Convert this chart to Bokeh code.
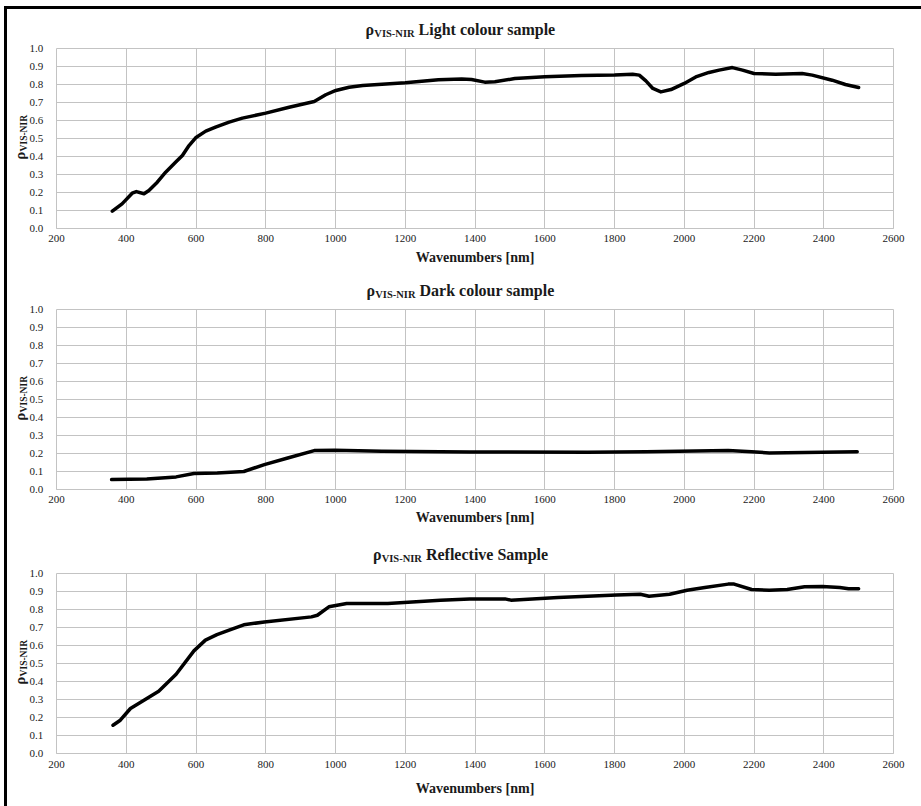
import math
from bokeh.plotting import figure
from bokeh.models import Range1d, FixedTicker, PrintfTickFormatter, Label
from bokeh.layouts import column, row
from bokeh.embed import file_html
from bokeh.resources import INLINE

# ---------------- data ----------------
x_ticks = [200, 400, 600, 800, 1000, 1200, 1400, 1600, 1800, 2000, 2200, 2400, 2600]
y_ticks = [0.0, 0.1, 0.2, 0.3, 0.4, 0.5, 0.6, 0.7, 0.8, 0.9, 1.0]

titles = ["Light colour sample", "Dark colour sample", "Reflective Sample"]
x_label = "Wavenumbers [nm]"

light_x = [360, 388, 417, 429, 451, 465, 489, 513, 542, 561, 580, 599, 628, 656, 695, 733, 800, 867,
           939, 972, 1001, 1039, 1078, 1200, 1295, 1362, 1390, 1428, 1457, 1514, 1600, 1705, 1800,
           1852, 1871, 1890, 1910, 1933, 1962, 2000, 2033, 2071, 2100, 2138, 2167, 2200, 2262, 2338,
           2367, 2424, 2462, 2500]
light_y = [0.096, 0.137, 0.196, 0.205, 0.193, 0.211, 0.257, 0.313, 0.369, 0.406, 0.461, 0.504, 0.541,
           0.563, 0.591, 0.613, 0.641, 0.674, 0.706, 0.743, 0.767, 0.785, 0.795, 0.810, 0.826, 0.830,
           0.828, 0.813, 0.815, 0.833, 0.843, 0.850, 0.853, 0.857, 0.852, 0.820, 0.778, 0.759, 0.772,
           0.806, 0.842, 0.867, 0.880, 0.894, 0.880, 0.861, 0.857, 0.861, 0.852, 0.824, 0.800, 0.783]

dark_x = [358, 459, 543, 594, 661, 737, 796, 863, 939, 998, 1133, 1385, 1722, 1890, 2126, 2193, 2244,
          2395, 2496]
dark_y = [0.055, 0.059, 0.070, 0.089, 0.092, 0.100, 0.138, 0.175, 0.216, 0.218, 0.212, 0.208, 0.207,
          0.210, 0.216, 0.210, 0.203, 0.207, 0.210]

refl_x = [362, 383, 412, 459, 493, 543, 594, 627, 660, 695, 737, 796, 931, 948, 981, 1032, 1150, 1301,
          1385, 1486, 1503, 1638, 1806, 1874, 1899, 1958, 2008, 2059, 2126, 2143, 2193, 2244, 2295,
          2345, 2396, 2446, 2471, 2500]
refl_y = [0.157, 0.185, 0.250, 0.306, 0.346, 0.440, 0.570, 0.630, 0.660, 0.685, 0.715, 0.731, 0.759,
          0.768, 0.815, 0.833, 0.833, 0.852, 0.859, 0.859, 0.852, 0.867, 0.881, 0.885, 0.874, 0.885,
          0.907, 0.922, 0.941, 0.941, 0.911, 0.907, 0.911, 0.926, 0.928, 0.922, 0.915, 0.915]

# ---------------- styling helpers ----------------
SERIF = "Liberation Serif"
GRID = "#c3c3c3"
TEXT = "#1a1a1a"

# Times bold advance widths (per em) for title layout
TW = {' ': .25, 'A': .722, 'B': .667, 'C': .722, 'D': .722, 'E': .667, 'F': .611, 'G': .778, 'H': .778,
      'I': .389, 'J': .5, 'K': .778, 'L': .667, 'M': .944, 'N': .722, 'O': .778, 'P': .611, 'Q': .778,
      'R': .722, 'S': .556, 'T': .667, 'U': .722, 'V': .722, 'W': 1.0, 'X': .722, 'Y': .722, 'Z': .667,
      'a': .5, 'b': .556, 'c': .444, 'd': .556, 'e': .444, 'f': .333, 'g': .5, 'h': .556, 'i': .278,
      'j': .333, 'k': .556, 'l': .278, 'm': .833, 'n': .556, 'o': .5, 'p': .556, 'q': .556, 'r': .444,
      's': .389, 't': .333, 'u': .556, 'v': .5, 'w': .722, 'x': .5, 'y': .5, 'z': .444, '-': .333,
      'ρ': .55}


def tw(s, size):
    return sum(TW.get(c, .5) for c in s) * size


def lbl(p, text, x, y, size, angle=0.0, align="left"):
    p.add_layout(Label(x=x, y=y, text=text, angle=angle,
                       text_font=SERIF, text_font_size=f"{size}px",
                       text_font_style="bold", text_color=TEXT,
                       text_align=align, text_baseline="middle"))


def bare(p):
    p.grid.visible = False
    p.outline_line_color = None
    p.background_fill_color = "white"
    p.border_fill_color = "white"


FRAME_H = 180
TOTAL_W = 914
LEFT_W = 39          # strip holding y-axis title and tick labels
STRIP_FRAME_W = 25
MAIN_B_LEFT = 10
B_RIGHT = 28
B_TOP = 7


def make_panel(xs, ys, title, title_h, bottom, tick_standoff, label_standoff):
    # ---- title strip ----
    t = figure(width=TOTAL_W, height=title_h, x_range=Range1d(0, TOTAL_W), y_range=Range1d(0, title_h),
               output_backend="svg", toolbar_location=None, title=None,
               x_axis_location=None, y_axis_location=None,
               min_border=0, min_border_left=0, min_border_right=0,
               min_border_top=0, min_border_bottom=0)
    bare(t)
    main_size, sub_size = 16, 10.5
    w_rho = tw("ρ", main_size)
    w_sub = tw("VIS-NIR", sub_size)
    gap = tw(" ", main_size)
    w_main = tw(title, main_size)
    total = w_rho + w_sub + gap + w_main
    x0 = 453 - total / 2
    ym = 12.5
    lbl(t, "ρ", x0, ym, main_size)
    lbl(t, "VIS-NIR", x0 + w_rho, ym - 4.6, sub_size)
    lbl(t, title, x0 + w_rho + w_sub + gap, ym, main_size)

    ph = B_TOP + FRAME_H + bottom

    # ---- left strip: rotated composite y title + y tick labels (right-side axis) ----
    ls = figure(width=LEFT_W, height=ph, x_range=Range1d(0, STRIP_FRAME_W), y_range=Range1d(0, 1),
                output_backend="svg", toolbar_location=None, title=None,
                x_axis_location=None, y_axis_location="right",
                min_border_left=0, min_border_right=LEFT_W - STRIP_FRAME_W,
                min_border_top=B_TOP, min_border_bottom=bottom)
    bare(ls)
    ya = ls.yaxis[0]
    ya.ticker = FixedTicker(ticks=y_ticks)
    ya.formatter = PrintfTickFormatter(format="%.1f")
    ya.axis_line_color = None
    ya.major_tick_line_color = None
    ya.minor_tick_line_color = None
    ya.major_tick_out = 0
    ya.major_tick_in = 0
    ya.major_label_standoff = 0
    ya.major_label_text_font = SERIF
    ya.major_label_text_font_size = "11px"
    ya.major_label_text_color = TEXT
    lbl(ls, "ρ", 14.2, 72.8 / FRAME_H, 15, angle=math.pi / 2, align="center")
    lbl(ls, "VIS-NIR", 19.0, 95.3 / FRAME_H, 9.5, angle=math.pi / 2, align="center")

    # ---- main plot ----
    p = figure(width=TOTAL_W - LEFT_W, height=ph, x_range=Range1d(200, 2600), y_range=Range1d(0, 1),
               output_backend="svg", toolbar_location=None, title=None, y_axis_location=None,
               min_border_left=MAIN_B_LEFT, min_border_right=B_RIGHT,
               min_border_top=B_TOP, min_border_bottom=bottom)
    p.background_fill_color = "white"
    p.border_fill_color = "white"
    p.outline_line_color = GRID
    p.outline_line_width = 1

    p.xaxis.ticker = FixedTicker(ticks=x_ticks)
    p.xgrid.ticker = FixedTicker(ticks=x_ticks)
    p.ygrid.ticker = FixedTicker(ticks=y_ticks)
    for g in (p.xgrid, p.ygrid):
        g.grid_line_color = GRID
        g.grid_line_width = 1
    ax = p.xaxis[0]
    ax.axis_line_color = GRID
    ax.major_tick_line_color = None
    ax.minor_tick_line_color = None
    ax.major_tick_out = 0
    ax.major_tick_in = 0
    ax.major_label_text_font = SERIF
    ax.major_label_text_font_size = "11px"
    ax.major_label_text_color = TEXT
    ax.major_label_standoff = tick_standoff
    ax.axis_label = x_label
    ax.axis_label_text_font = SERIF
    ax.axis_label_text_font_size = "14px"
    ax.axis_label_text_font_style = "bold"
    ax.axis_label_text_color = TEXT
    ax.axis_label_standoff = label_standoff

    p.line(xs, ys, line_color="black", line_width=3.5, line_join="round", line_cap="round")

    return column(t, row(ls, p, spacing=0), spacing=0)


panel1 = make_panel(light_x, light_y, titles[0], 32, 43, 6, 5)
panel2 = make_panel(dark_x, dark_y, titles[1], 31, 44, 6, 4)
panel3 = make_panel(refl_x, refl_y, titles[2], 33, 53, 7, 10)

layout = column(panel1, panel2, panel3, spacing=0,
                styles={"border-left": "3px solid black", "border-top": "3px solid black",
                        "background-color": "white"},
                margin=(6, 0, 0, 4))

open("out.html", "w").write(file_html(layout, INLINE))
